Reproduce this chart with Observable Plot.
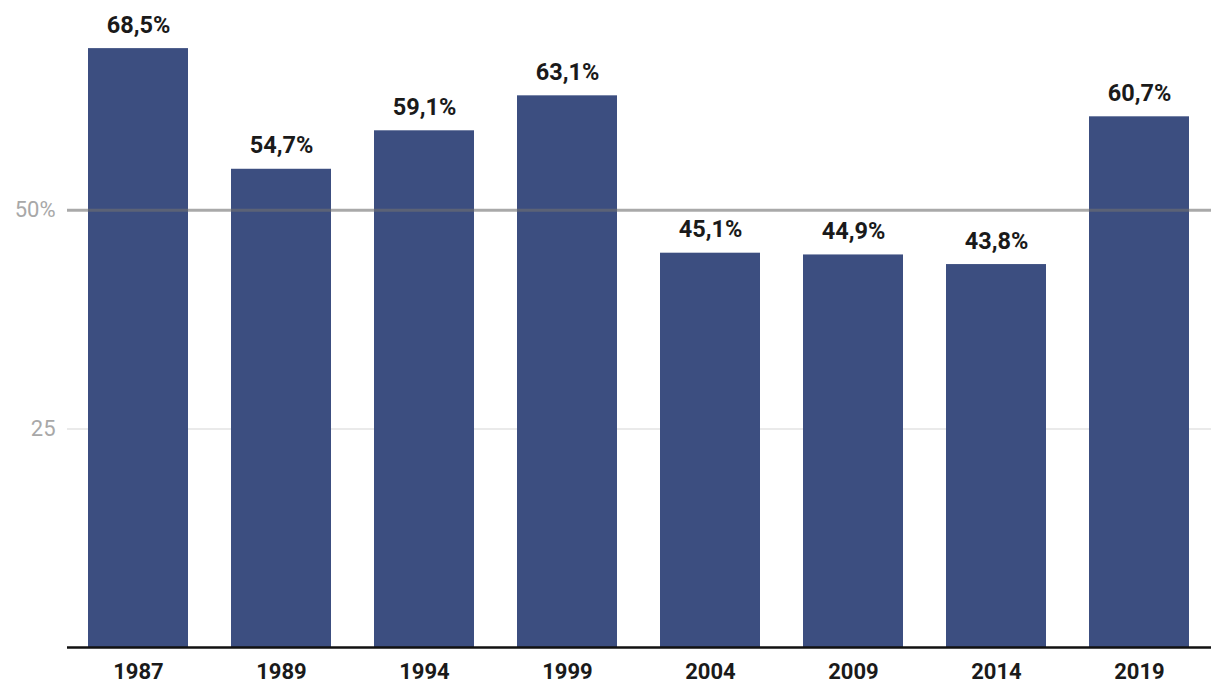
<!DOCTYPE html>
<html>
<head>
<meta charset="utf-8">
<script src="https://cdn.jsdelivr.net/npm/d3@7"></script>
<script src="https://cdn.jsdelivr.net/npm/@observablehq/plot@0.6"></script>
<style>
  html, body { margin: 0; padding: 0; background: #fff; }
  #chart svg { display: block; font-family: Roboto, "Noto Sans", sans-serif; }
</style>
</head>
<body>
<div id="chart"></div>
<script>
const years = ["1987", "1989", "1994", "1999", "2004", "2009", "2014", "2019"];
const values = [68.5, 54.7, 59.1, 63.1, 45.1, 44.9, 43.8, 60.7];
const labels = ["68,5%", "54,7%", "59,1%", "63,1%", "45,1%", "44,9%", "43,8%", "60,7%"];
const yTicks = [25, 50];
const yTickLabels = ["25", "50%"];

const data = years.map((y, i) => ({year: y, value: values[i], label: labels[i]}));

const chart = Plot.plot({
  width: 1220,
  height: 698,
  marginLeft: 67,
  marginRight: 9,
  marginTop: 35,
  marginBottom: 51,
  style: {fontFamily: "Roboto, 'Noto Sans', sans-serif", background: "#fff"},
  x: {domain: years, paddingInner: 0.3, paddingOuter: 0.15, label: null},
  y: {domain: [0, 70], label: null},
  marks: [
    Plot.ruleY([25], {stroke: "#e3e3e3", strokeWidth: 1.5}),
    Plot.barY(data, {x: "year", y: "value", fill: "#3c4e80"}),
    Plot.ruleY([50], {stroke: "#6f6f6f", strokeOpacity: 0.6, strokeWidth: 3}),
    Plot.ruleY([0], {stroke: "#111", strokeWidth: 2.5}),
    Plot.text(data, {x: "year", y: "value", text: "label", dy: -16, lineAnchor: "bottom",
      fontSize: 23.5, fontWeight: "bold", fill: "#1a1a1a"}),
    Plot.axisY(yTicks, {tickSize: 0, tickPadding: 12, fontSize: 22, fill: "#a8a8a8",
      tickFormat: (d) => yTickLabels[yTicks.indexOf(d)], label: null}),
    Plot.axisX({tickSize: 0, tickPadding: 16, fontSize: 22, fontWeight: "bold", fill: "#1a1a1a", label: null})
  ]
});
document.getElementById("chart").appendChild(chart);
</script>
</body>
</html>
